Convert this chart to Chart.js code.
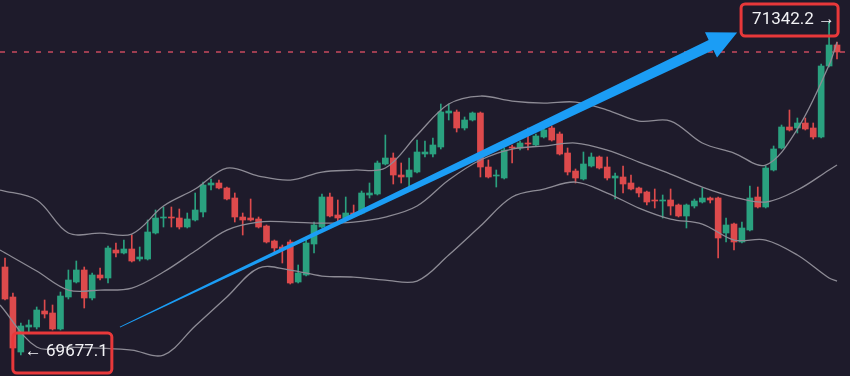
<!DOCTYPE html>
<html>
<head>
<meta charset="utf-8">
<script src="https://cdn.jsdelivr.net/npm/chart.js@4.4.1/dist/chart.umd.min.js"></script>
<style>
  body { margin: 0; background: #1e1b2b; overflow: hidden; }
  canvas { display: block; }
</style>
</head>
<body>
<canvas id="myChart" width="850" height="376"></canvas>
<script>
// candles, oldest first
const opens = [70117.2,69967.2,69692.2,69817.2,69817.2,69897.2,69887.2,69807.2,69967.2,70042.2,
  70102.2,69962.2,70077.2,70062.2,70202.2,70187.2,70207.2,70157.2,70157.2,70287.2,
  70362.2,70367.2,70362.2,70317.2,70352.2,70392.2,70527.2,70537.2,70512.2,70462.2,
  70367.2,70362.2,70357.2,70322.2,70247.2,70217.2,70242.2,70042.2,70077.2,70232.2,
  70317.2,70467.2,70377.2,70362.2,70387.2,70387.2,70477.2,70482.2,70632.2,70662.2,
  70577.2,70567.2,70592.2,70682.2,70682.2,70717.2,70887.2,70892.2,70812.2,70852.2,
  70887.2,70617.2,70572.2,70562.2,70717.2,70712.2,70737.2,70727.2,70767.2,70812.2,
  70782.2,70687.2,70597.2,70557.2,70622.2,70667.2,70617.2,70562.2,70567.2,70537.2,
  70512.2,70492.2,70452.2,70447.2,70452.2,70427.2,70372.2,70422.2,70442.2,70462.2,
  70462.2,70287.2,70332.2,70242.2,70302.2,70467.2,70417.2,70602.2,70712.2,70817.2,
  70812.2,70837.2,70812.2,70767.2,71122.2,71227.2];
const highs = [70162.2,69987.2,69837.2,69852.2,69917.2,69952.2,69927.2,69992.2,70102.2,70147.2,
  70117.2,70087.2,70112.2,70222.2,70237.2,70252.2,70277.2,70217.2,70352.2,70402.2,
  70417.2,70417.2,70407.2,70387.2,70487.2,70542.2,70557.2,70552.2,70517.2,70487.2,
  70387.2,70457.2,70367.2,70327.2,70252.2,70227.2,70252.2,70127.2,70252.2,70342.2,
  70482.2,70487.2,70452.2,70467.2,70427.2,70497.2,70537.2,70647.2,70777.2,70687.2,
  70637.2,70662.2,70752.2,70747.2,70762.2,70932.2,70932.2,70902.2,70867.2,70892.2,
  70892.2,70652.2,70602.2,70712.2,70727.2,70747.2,70812.2,70782.2,70812.2,70822.2,
  70792.2,70712.2,70607.2,70692.2,70687.2,70672.2,70667.2,70587.2,70622.2,70577.2,
  70517.2,70497.2,70507.2,70477.2,70507.2,70432.2,70432.2,70457.2,70512.2,70467.2,
  70467.2,70362.2,70337.2,70342.2,70522.2,70517.2,70622.2,70722.2,70827.2,70902.2,
  70862.2,70862.2,70837.2,71132.2,71342.2,71242.2];
const lows = [69952.2,69702.2,69677.1,69787.2,69807.2,69862.2,69802.2,69802.2,69957.2,70037.2,
  69912.2,69952.2,70052.2,70037.2,70167.2,70182.2,70142.2,70147.2,70152.2,70282.2,
  70317.2,70317.2,70307.2,70312.2,70347.2,70367.2,70502.2,70507.2,70452.2,70342.2,
  70277.2,70347.2,70312.2,70237.2,70187.2,70137.2,70032.2,70037.2,70072.2,70187.2,
  70312.2,70367.2,70347.2,70357.2,70367.2,70382.2,70462.2,70477.2,70627.2,70532.2,
  70537.2,70517.2,70587.2,70667.2,70667.2,70707.2,70852.2,70792.2,70802.2,70847.2,
  70567.2,70562.2,70517.2,70557.2,70637.2,70702.2,70702.2,70722.2,70762.2,70747.2,
  70677.2,70577.2,70537.2,70552.2,70617.2,70607.2,70552.2,70457.2,70487.2,70502.2,
  70467.2,70427.2,70412.2,70362.2,70377.2,70367.2,70312.2,70412.2,70437.2,70437.2,
  70162.2,70242.2,70202.2,70237.2,70297.2,70412.2,70412.2,70597.2,70707.2,70797.2,
  70787.2,70802.2,70757.2,70762.2,71117.2,71157.2];
const closes = [69957.2,69712.2,69822.2,69827.2,69902.2,69882.2,69807.2,69972.2,70052.2,70102.2,
  69962.2,70077.2,70062.2,70212.2,70187.2,70207.2,70147.2,70167.2,70292.2,70362.2,
  70367.2,70362.2,70317.2,70357.2,70402.2,70527.2,70537.2,70512.2,70457.2,70367.2,
  70352.2,70352.2,70317.2,70242.2,70212.2,70207.2,70037.2,70087.2,70237.2,70327.2,
  70467.2,70372.2,70362.2,70387.2,70372.2,70487.2,70487.2,70637.2,70662.2,70577.2,
  70567.2,70602.2,70692.2,70692.2,70727.2,70892.2,70897.2,70812.2,70852.2,70887.2,
  70617.2,70567.2,70577.2,70702.2,70712.2,70737.2,70732.2,70772.2,70802.2,70752.2,
  70682.2,70592.2,70562.2,70632.2,70667.2,70612.2,70562.2,70572.2,70532.2,70507.2,
  70487.2,70442.2,70447.2,70452.2,70422.2,70372.2,70427.2,70447.2,70462.2,70452.2,
  70262.2,70327.2,70242.2,70312.2,70462.2,70417.2,70612.2,70707.2,70817.2,70802.2,
  70837.2,70807.2,70767.2,71122.2,71227.2,71192.2];

// bollinger bands read every 4th candle (first point at the left edge)
const bandIdx = [-0.63,4,8,12,16,20,24,28,32,36,40,44,48,52,56,60,64,68,72,76,80,84,88,92,96,100,104,105];
const upperBand = [70502,70452,70287,70287,70282,70422,70507,70612,70572,70552,70592,70602,70612,70777,
  70932,70972,70947,70937,70942,70902,70847,70847,70737,70687,70627,70807,71127,71242];
const middleBand = [70202,70097,70002,70002,70012,70092,70197,70302,70342,70342,70337,70342,70367,70422,
  70552,70652,70707,70722,70737,70702,70642,70582,70517,70467,70442,70502,70602,70627];
const lowerBand = [69927,69717,69717,69712,69702,69677,69822,69967,70112,70102,70072,70067,70052,70047,
  70177,70322,70467,70507,70542,70487,70412,70357,70332,70252,70252,70177,70062,70047];

// arrow drawn from [candle index, price] to [candle index, price]
const arrowFrom = [14.5, 69817];
const arrowTo = [92.4, 71290];

const GREEN = '#2aa17f';
const RED = '#dd4a4c';
const BAND = '#8d8b95';

const idx = opens.map((o, i) => i);
const colors = idx.map(i => closes[i] >= opens[i] ? GREEN : RED);
const maxHigh = Math.max(...highs);
const minLow = Math.min(...lows);
const maxIdx = highs.indexOf(maxHigh);
const minIdx = lows.indexOf(minLow);
const lastClose = closes[closes.length - 1];

function band(vals) {
  return bandIdx.map((x, k) => ({x: x, y: vals[k]}));
}

function roundRect(ctx, x, y, w, h, r) {
  ctx.beginPath();
  ctx.moveTo(x + r, y);
  ctx.arcTo(x + w, y, x + w, y + h, r);
  ctx.arcTo(x + w, y + h, x, y + h, r);
  ctx.arcTo(x, y + h, x, y, r);
  ctx.arcTo(x, y, x + w, y, r);
  ctx.closePath();
}

const overlay = {
  id: 'overlay',
  beforeDatasetsDraw(chart) {
    const ctx = chart.ctx;
    const y = chart.scales.y.getPixelForValue(lastClose);
    ctx.save();
    ctx.strokeStyle = '#c84a5e';
    ctx.lineWidth = 1.5;
    ctx.setLineDash([5, 7]);
    ctx.beginPath();
    ctx.moveTo(0, y);
    ctx.lineTo(chart.width, y);
    ctx.stroke();
    ctx.setLineDash([]);

    ctx.fillStyle = '#6f6d78';
    ctx.font = '13px Roboto';
    ctx.textBaseline = 'bottom';
    ctx.fillText('BOLL(20,2)  70627.2  71242.2  70047.2', -64, 3);
    ctx.restore();
  },
  afterDatasetsDraw(chart) {
    const ctx = chart.ctx;
    const xs = chart.scales.x, ys = chart.scales.y;

    // tapered arrow
    const sx = xs.getPixelForValue(arrowFrom[0]), sy = ys.getPixelForValue(arrowFrom[1]);
    const tx = xs.getPixelForValue(arrowTo[0]), ty = ys.getPixelForValue(arrowTo[1]);
    const len = Math.hypot(tx - sx, ty - sy);
    const ux = (tx - sx) / len, uy = (ty - sy) / len;
    const nx = -uy, ny = ux;
    const headLen = 29, headW = 14, shaftW = 5.5;
    const bx = tx - ux * headLen, by = ty - uy * headLen;
    ctx.save();
    ctx.fillStyle = '#1b9df5';
    ctx.beginPath();
    ctx.moveTo(sx + nx * 0.4, sy + ny * 0.4);
    ctx.lineTo(bx + nx * shaftW, by + ny * shaftW);
    ctx.lineTo(bx + nx * headW, by + ny * headW);
    ctx.lineTo(tx, ty);
    ctx.lineTo(bx - nx * headW, by - ny * headW);
    ctx.lineTo(bx - nx * shaftW, by - ny * shaftW);
    ctx.lineTo(sx - nx * 0.4, sy - ny * 0.4);
    ctx.closePath();
    ctx.fill();

    // high / low boxes
    ctx.strokeStyle = '#e8383a';
    ctx.lineWidth = 3;
    ctx.fillStyle = '#f2f2f5';
    ctx.font = '17px Roboto';
    ctx.textBaseline = 'middle';

    const hx = xs.getPixelForValue(maxIdx), hy = ys.getPixelForValue(maxHigh);
    roundRect(ctx, hx - 88, hy - 18, 97, 32, 4);
    ctx.stroke();
    ctx.fillText(maxHigh.toFixed(1) + ' \u2192', hx - 77, hy - 2);

    const lx = xs.getPixelForValue(minIdx), ly = ys.getPixelForValue(minLow);
    roundRect(ctx, lx - 8, ly - 22, 99, 40, 4);
    ctx.stroke();
    ctx.fillText('\u2190 ' + minLow.toFixed(1), lx + 4, ly - 3);
    ctx.restore();
  }
};

const ctx = document.getElementById('myChart').getContext('2d');
const myChart = new Chart(ctx, {
  type: 'bar',
  data: {
    datasets: [
      {type: 'line', data: band(upperBand), borderColor: BAND, borderWidth: 1.3, pointRadius: 0, tension: 0.35, order: 0},
      {type: 'line', data: band(middleBand), borderColor: BAND, borderWidth: 1.3, pointRadius: 0, tension: 0.35, order: 0},
      {type: 'line', data: band(lowerBand), borderColor: BAND, borderWidth: 1.3, pointRadius: 0, tension: 0.35, order: 0},
      {
        data: idx.map(i => ({x: i, y: [opens[i], closes[i]]})),
        backgroundColor: colors,
        barThickness: 6,
        minBarLength: 1,
        grouped: false,
        order: 1
      },
      {
        data: idx.map(i => ({x: i, y: [lows[i], highs[i]]})),
        backgroundColor: colors,
        barThickness: 1,
        grouped: false,
        order: 2
      }
    ]
  },
  options: {
    responsive: false,
    animation: false,
    devicePixelRatio: 1,
    layout: {padding: 0},
    plugins: {legend: {display: false}, tooltip: {enabled: false}},
    scales: {
      x: {type: 'linear', min: -0.631, max: 106.64, display: false, offset: false},
      y: {min: 69572.2, max: 71452.2, display: false}
    }
  },
  plugins: [overlay]
});
</script>
</body>
</html>
